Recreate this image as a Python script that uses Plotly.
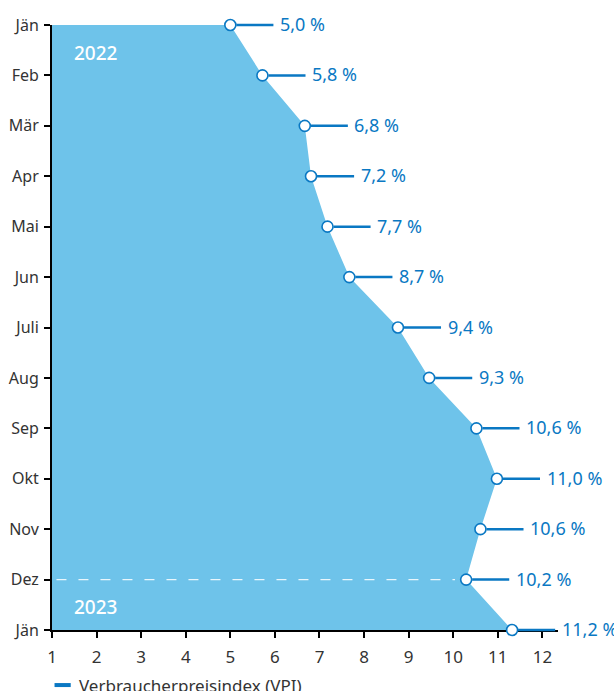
import plotly.graph_objects as go

months = ["Jän", "Feb", "Mär", "Apr", "Mai", "Jun", "Juli", "Aug", "Sep", "Okt", "Nov", "Dez", "Jän"]
vpi_values = [5.0, 5.72, 6.67, 6.81, 7.18, 7.67, 8.76, 9.46, 10.52, 10.98, 10.61, 10.29, 11.32]
vpi_labels = ["5,0 %", "5,8 %", "6,8 %", "7,2 %", "7,7 %", "8,7 %", "9,4 %", "9,3 %",
              "10,6 %", "11,0 %", "10,6 %", "10,2 %", "11,2 %"]
x_ticks = list(range(1, 13))
leader_len = 1.0
year_marks = [("2022", 0.55), ("2023", 11.55)]

BLUE = "#0a78c3"
FILL = "#6ec3ea"
FONT = "Noto Sans"

idx = list(range(len(months)))

fig = go.Figure()

# area
fig.add_trace(go.Scatter(
    x=vpi_values, y=idx, mode="lines", fill="tozerox",
    fillcolor=FILL, line=dict(width=0, color=FILL), hoverinfo="skip", showlegend=False))

# dashed separator at Dez
dez_i = 11
fig.add_trace(go.Scatter(
    x=[1.1, vpi_values[dez_i] - 0.25], y=[dez_i, dez_i], mode="lines",
    line=dict(color="rgba(255,255,255,0.85)", width=1.3, dash="10px,12px"),
    hoverinfo="skip", showlegend=False))

# markers
fig.add_trace(go.Scatter(
    x=vpi_values, y=idx, mode="markers",
    marker=dict(size=11, color="white", line=dict(color=BLUE, width=1.6)),
    cliponaxis=False, showlegend=False))

# leader lines (annotation arrows, not clipped) and labels
for v, i, lab in zip(vpi_values, idx, vpi_labels):
    fig.add_annotation(x=v, y=i, xref="x", yref="y", ax=v + leader_len, ay=i,
                       axref="x", ayref="y", text="", showarrow=True, arrowhead=0,
                       arrowwidth=2.5, arrowcolor=BLUE, standoff=6)
    fig.add_annotation(x=v + leader_len, y=i, xref="x", yref="y", text=lab, showarrow=False,
                       xanchor="left", yanchor="middle", xshift=3, yshift=1,
                       font=dict(family=FONT, size=18, color=BLUE))

for txt, yv in year_marks:
    fig.add_annotation(x=1.45, y=yv, xref="x", yref="y", text=txt, showarrow=False,
                       xanchor="left", yanchor="middle",
                       font=dict(family=FONT, size=19, color="white", weight=500))

# legend
fig.add_shape(type="line", xref="paper", yref="paper", x0=0.005, x1=0.037, y0=-0.091, y1=-0.091,
              line=dict(color=BLUE, width=4))
fig.add_annotation(xref="paper", yref="paper", x=0.05, y=-0.091, text="Verbraucherpreisindex (VPI)",
                   showarrow=False, xanchor="left", yanchor="middle",
                   font=dict(family=FONT, size=17, color="#333333"))

fig.update_layout(
    width=614, height=691,
    margin=dict(l=52, r=56, t=25, b=61),
    plot_bgcolor="white", paper_bgcolor="white",
    font=dict(family=FONT, color="#333333"),
    showlegend=False,
)
fig.update_xaxes(range=[1, 12.35], tickvals=x_ticks, ticktext=[str(t) for t in x_ticks],
                 showgrid=False, zeroline=False, showline=True, linecolor="black", linewidth=2,
                 ticks="outside", ticklen=6, tickwidth=2, tickcolor="black", automargin=False,
                 layer="below traces",
                 tickfont=dict(size=17, color="#333333"), ticklabelstandoff=5)
fig.update_yaxes(range=[12, 0], tickvals=idx, ticktext=months,
                 showgrid=False, zeroline=False, showline=True, linecolor="black", linewidth=2,
                 ticks="outside", ticklen=6, tickwidth=2, tickcolor="black", automargin=False,
                 tickfont=dict(size=16, color="#333333"), ticklabelstandoff=2)

fig.write_html("out.html", config={"displayModeBar": False},
               post_script="document.body.style.margin='0';document.body.style.overflow='hidden';")
